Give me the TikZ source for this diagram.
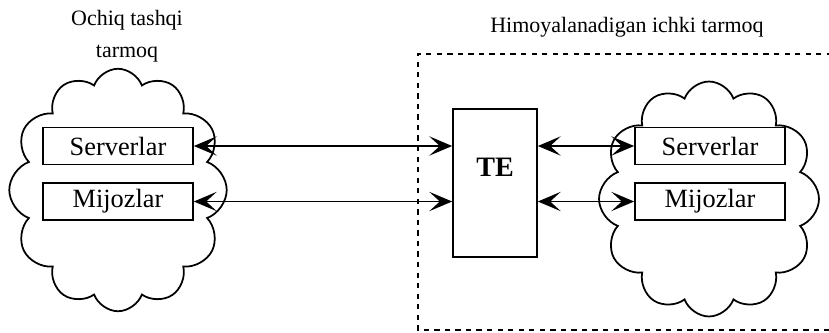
\documentclass[tikz,border=0pt]{standalone}
\usepackage{fontspec}
\setmainfont{Liberation Serif}
\usetikzlibrary{arrows.meta,positioning,shapes.symbols}

\begin{document}
\begin{tikzpicture}[x=.02cm,y=-.02cm,line width=1pt,
  box/.style={draw,fill=white,minimum width=3cm,minimum height=.74cm,inner sep=0pt,font=\fontsize{15}{18}\selectfont},
  puff/.style={draw,cloud,cloud puffs=12,cloud puff arc=140,aspect=.93,inner sep=0pt},
  link/.style={{Stealth[length=13pt,width=11pt,inset=6pt]}-{Stealth[length=13pt,width=11pt,inset=6pt]}},
  caption/.style={font=\fontsize{12.5}{18}\selectfont,align=center}]
\useasboundingbox (0,0) rectangle (829,332);
% protected network
\draw[dashed] (832,54)--(418,54)--(418,330)--(832,330);
\node[caption] (intitle) at (627,27) {Himoyalanadigan ichki tarmoq};
\node[caption] (outtitle) at (127,36) {Ochiq tashqi\\tarmoq};
% clouds
\node[puff,minimum width=4.35cm,minimum height=4.85cm] (outcloud) at (118,190) {};
\node[puff,minimum width=4.4cm,minimum height=4.7cm] (incloud) at (709,199) {};
% hosts
\node[box] (outsrv) at (118,146) {Serverlar};
\node[box] (outcli) at (118,201.5) {Mijozlar};
\node[box] (insrv) at (710,146) {Serverlar};
\node[box] (incli) at (710,201.5) {Mijozlar};
% screen
\node[draw,minimum width=1.68cm,minimum height=2.96cm] (te) at (495,183) {};
\node[font=\fontsize{16}{19}\selectfont\bfseries] (telabel) at (495,167) {TE};
\draw[link] (outsrv.east)--(te.west |- outsrv.east);
\draw[link] (outcli.east)--(te.west |- outcli.east);
\draw[link] (te.east |- insrv.west)--(insrv.west);
\draw[link] (te.east |- incli.west)--(incli.west);
\end{tikzpicture}
\end{document}
